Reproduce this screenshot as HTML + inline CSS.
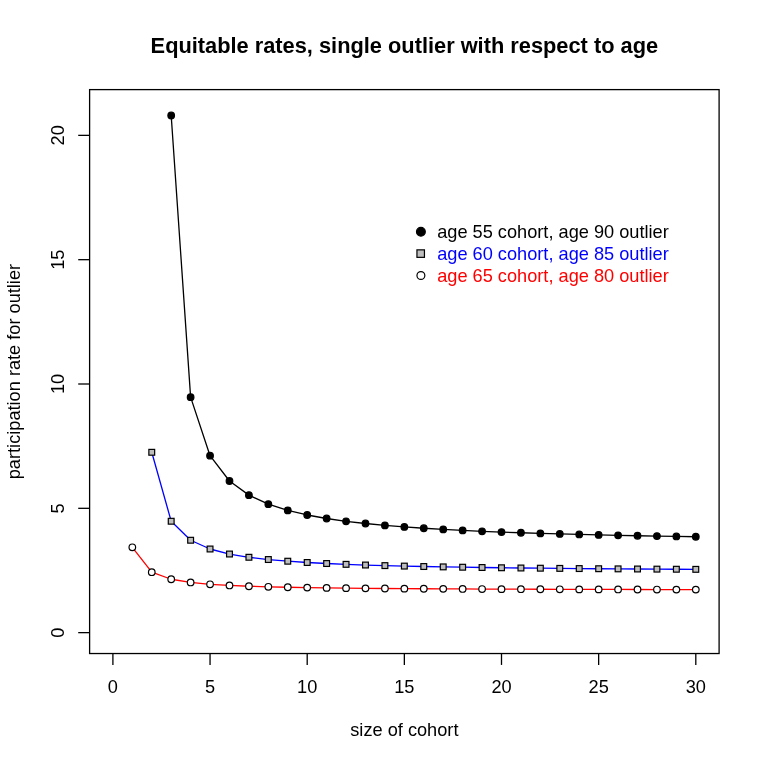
<!DOCTYPE html>
<html><head><meta charset="utf-8"><title>Equitable rates</title>
<style>
html,body{margin:0;padding:0;background:#fff;}
body{width:765px;height:765px;overflow:hidden;font-family:"Liberation Sans",sans-serif;}
svg{display:block;will-change:transform;transform:translateZ(0);}
text{font-family:"Liberation Sans",sans-serif;fill:#000;}
.t{font-size:21.8px;font-weight:bold;}
.a{font-size:18.2px;}
.l{font-size:18.2px;}
</style></head><body>
<svg width="765" height="765" viewBox="0 0 765 765">
<rect x="0" y="0" width="765" height="765" fill="#ffffff"/>

<polyline points="171.19,115.50 190.62,397.14 210.05,455.70 229.48,481.02 248.91,495.15 268.34,504.16 287.77,510.41 307.20,514.99 326.63,518.50 346.06,521.28 365.49,523.52 384.92,525.38 404.35,526.94 423.78,528.27 443.21,529.42 462.64,530.41 482.07,531.29 501.50,532.07 520.93,532.76 540.36,533.39 559.79,533.95 579.22,534.46 598.65,534.92 618.08,535.35 637.51,535.74 656.94,536.10 676.37,536.43 695.80,536.74" fill="none" stroke="#000" stroke-width="1.30" stroke-linejoin="round" stroke-linecap="round"/>
<g stroke="#000" stroke-width="1.20">
<circle cx="171.19" cy="115.50" r="3.30" fill="#000"/>
<circle cx="190.62" cy="397.14" r="3.30" fill="#000"/>
<circle cx="210.05" cy="455.70" r="3.30" fill="#000"/>
<circle cx="229.48" cy="481.02" r="3.30" fill="#000"/>
<circle cx="248.91" cy="495.15" r="3.30" fill="#000"/>
<circle cx="268.34" cy="504.16" r="3.30" fill="#000"/>
<circle cx="287.77" cy="510.41" r="3.30" fill="#000"/>
<circle cx="307.20" cy="514.99" r="3.30" fill="#000"/>
<circle cx="326.63" cy="518.50" r="3.30" fill="#000"/>
<circle cx="346.06" cy="521.28" r="3.30" fill="#000"/>
<circle cx="365.49" cy="523.52" r="3.30" fill="#000"/>
<circle cx="384.92" cy="525.38" r="3.30" fill="#000"/>
<circle cx="404.35" cy="526.94" r="3.30" fill="#000"/>
<circle cx="423.78" cy="528.27" r="3.30" fill="#000"/>
<circle cx="443.21" cy="529.42" r="3.30" fill="#000"/>
<circle cx="462.64" cy="530.41" r="3.30" fill="#000"/>
<circle cx="482.07" cy="531.29" r="3.30" fill="#000"/>
<circle cx="501.50" cy="532.07" r="3.30" fill="#000"/>
<circle cx="520.93" cy="532.76" r="3.30" fill="#000"/>
<circle cx="540.36" cy="533.39" r="3.30" fill="#000"/>
<circle cx="559.79" cy="533.95" r="3.30" fill="#000"/>
<circle cx="579.22" cy="534.46" r="3.30" fill="#000"/>
<circle cx="598.65" cy="534.92" r="3.30" fill="#000"/>
<circle cx="618.08" cy="535.35" r="3.30" fill="#000"/>
<circle cx="637.51" cy="535.74" r="3.30" fill="#000"/>
<circle cx="656.94" cy="536.10" r="3.30" fill="#000"/>
<circle cx="676.37" cy="536.43" r="3.30" fill="#000"/>
<circle cx="695.80" cy="536.74" r="3.30" fill="#000"/>
</g>
<polyline points="151.76,452.29 171.19,521.24 190.62,540.24 210.05,549.00 229.48,554.02 248.91,557.27 268.34,559.53 287.77,561.21 307.20,562.50 326.63,563.52 346.06,564.34 365.49,565.03 384.92,565.61 404.35,566.10 423.78,566.52 443.21,566.89 462.64,567.22 482.07,567.51 501.50,567.77 520.93,568.00 540.36,568.21 559.79,568.39 579.22,568.57 598.65,568.73 618.08,568.87 637.51,569.00 656.94,569.13 676.37,569.24 695.80,569.35" fill="none" stroke="#0000ff" stroke-width="1.30" stroke-linejoin="round" stroke-linecap="round"/>
<g stroke="#000" stroke-width="1.20">
<rect x="148.86" y="449.39" width="5.80" height="5.80" fill="#bebebe"/>
<rect x="168.29" y="518.34" width="5.80" height="5.80" fill="#bebebe"/>
<rect x="187.72" y="537.34" width="5.80" height="5.80" fill="#bebebe"/>
<rect x="207.15" y="546.10" width="5.80" height="5.80" fill="#bebebe"/>
<rect x="226.58" y="551.12" width="5.80" height="5.80" fill="#bebebe"/>
<rect x="246.01" y="554.37" width="5.80" height="5.80" fill="#bebebe"/>
<rect x="265.44" y="556.63" width="5.80" height="5.80" fill="#bebebe"/>
<rect x="284.87" y="558.31" width="5.80" height="5.80" fill="#bebebe"/>
<rect x="304.30" y="559.60" width="5.80" height="5.80" fill="#bebebe"/>
<rect x="323.73" y="560.62" width="5.80" height="5.80" fill="#bebebe"/>
<rect x="343.16" y="561.44" width="5.80" height="5.80" fill="#bebebe"/>
<rect x="362.59" y="562.13" width="5.80" height="5.80" fill="#bebebe"/>
<rect x="382.02" y="562.71" width="5.80" height="5.80" fill="#bebebe"/>
<rect x="401.45" y="563.20" width="5.80" height="5.80" fill="#bebebe"/>
<rect x="420.88" y="563.62" width="5.80" height="5.80" fill="#bebebe"/>
<rect x="440.31" y="563.99" width="5.80" height="5.80" fill="#bebebe"/>
<rect x="459.74" y="564.32" width="5.80" height="5.80" fill="#bebebe"/>
<rect x="479.17" y="564.61" width="5.80" height="5.80" fill="#bebebe"/>
<rect x="498.60" y="564.87" width="5.80" height="5.80" fill="#bebebe"/>
<rect x="518.03" y="565.10" width="5.80" height="5.80" fill="#bebebe"/>
<rect x="537.46" y="565.31" width="5.80" height="5.80" fill="#bebebe"/>
<rect x="556.89" y="565.49" width="5.80" height="5.80" fill="#bebebe"/>
<rect x="576.32" y="565.67" width="5.80" height="5.80" fill="#bebebe"/>
<rect x="595.75" y="565.83" width="5.80" height="5.80" fill="#bebebe"/>
<rect x="615.18" y="565.97" width="5.80" height="5.80" fill="#bebebe"/>
<rect x="634.61" y="566.10" width="5.80" height="5.80" fill="#bebebe"/>
<rect x="654.04" y="566.23" width="5.80" height="5.80" fill="#bebebe"/>
<rect x="673.47" y="566.34" width="5.80" height="5.80" fill="#bebebe"/>
<rect x="692.90" y="566.45" width="5.80" height="5.80" fill="#bebebe"/>
</g>
<polyline points="132.33,547.30 151.76,572.18 171.19,579.25 190.62,582.46 210.05,584.28 229.48,585.44 248.91,586.24 268.34,586.82 287.77,587.27 307.20,587.62 326.63,587.90 346.06,588.14 365.49,588.33 384.92,588.50 404.35,588.64 423.78,588.77 443.21,588.87 462.64,588.97 482.07,589.06 501.50,589.13 520.93,589.20 540.36,589.27 559.79,589.32 579.22,589.38 598.65,589.42 618.08,589.47 637.51,589.51 656.94,589.55 676.37,589.58 695.80,589.61" fill="none" stroke="#ff0000" stroke-width="1.30" stroke-linejoin="round" stroke-linecap="round"/>
<g stroke="#000" stroke-width="1.20">
<circle cx="132.33" cy="547.30" r="3.30" fill="#fff"/>
<circle cx="151.76" cy="572.18" r="3.30" fill="#fff"/>
<circle cx="171.19" cy="579.25" r="3.30" fill="#fff"/>
<circle cx="190.62" cy="582.46" r="3.30" fill="#fff"/>
<circle cx="210.05" cy="584.28" r="3.30" fill="#fff"/>
<circle cx="229.48" cy="585.44" r="3.30" fill="#fff"/>
<circle cx="248.91" cy="586.24" r="3.30" fill="#fff"/>
<circle cx="268.34" cy="586.82" r="3.30" fill="#fff"/>
<circle cx="287.77" cy="587.27" r="3.30" fill="#fff"/>
<circle cx="307.20" cy="587.62" r="3.30" fill="#fff"/>
<circle cx="326.63" cy="587.90" r="3.30" fill="#fff"/>
<circle cx="346.06" cy="588.14" r="3.30" fill="#fff"/>
<circle cx="365.49" cy="588.33" r="3.30" fill="#fff"/>
<circle cx="384.92" cy="588.50" r="3.30" fill="#fff"/>
<circle cx="404.35" cy="588.64" r="3.30" fill="#fff"/>
<circle cx="423.78" cy="588.77" r="3.30" fill="#fff"/>
<circle cx="443.21" cy="588.87" r="3.30" fill="#fff"/>
<circle cx="462.64" cy="588.97" r="3.30" fill="#fff"/>
<circle cx="482.07" cy="589.06" r="3.30" fill="#fff"/>
<circle cx="501.50" cy="589.13" r="3.30" fill="#fff"/>
<circle cx="520.93" cy="589.20" r="3.30" fill="#fff"/>
<circle cx="540.36" cy="589.27" r="3.30" fill="#fff"/>
<circle cx="559.79" cy="589.32" r="3.30" fill="#fff"/>
<circle cx="579.22" cy="589.38" r="3.30" fill="#fff"/>
<circle cx="598.65" cy="589.42" r="3.30" fill="#fff"/>
<circle cx="618.08" cy="589.47" r="3.30" fill="#fff"/>
<circle cx="637.51" cy="589.51" r="3.30" fill="#fff"/>
<circle cx="656.94" cy="589.55" r="3.30" fill="#fff"/>
<circle cx="676.37" cy="589.58" r="3.30" fill="#fff"/>
<circle cx="695.80" cy="589.61" r="3.30" fill="#fff"/>
</g>
<rect x="89.61" y="89.61" width="629.49" height="563.92" fill="none" stroke="#000" stroke-width="1.30"/>
<g stroke="#000" stroke-width="1.30" fill="none">
<line x1="112.90" y1="653.53" x2="112.90" y2="664.93"/>
<line x1="210.05" y1="653.53" x2="210.05" y2="664.93"/>
<line x1="307.20" y1="653.53" x2="307.20" y2="664.93"/>
<line x1="404.35" y1="653.53" x2="404.35" y2="664.93"/>
<line x1="501.50" y1="653.53" x2="501.50" y2="664.93"/>
<line x1="598.65" y1="653.53" x2="598.65" y2="664.93"/>
<line x1="695.80" y1="653.53" x2="695.80" y2="664.93"/>
<line x1="89.61" y1="632.64" x2="78.21" y2="632.64"/>
<line x1="89.61" y1="508.32" x2="78.21" y2="508.32"/>
<line x1="89.61" y1="384.00" x2="78.21" y2="384.00"/>
<line x1="89.61" y1="259.68" x2="78.21" y2="259.68"/>
<line x1="89.61" y1="135.36" x2="78.21" y2="135.36"/>
</g>
<text class="a" x="112.90" y="692.9" text-anchor="middle">0</text>
<text class="a" x="210.05" y="692.9" text-anchor="middle">5</text>
<text class="a" x="307.20" y="692.9" text-anchor="middle">10</text>
<text class="a" x="404.35" y="692.9" text-anchor="middle">15</text>
<text class="a" x="501.50" y="692.9" text-anchor="middle">20</text>
<text class="a" x="598.65" y="692.9" text-anchor="middle">25</text>
<text class="a" x="695.80" y="692.9" text-anchor="middle">30</text>
<text class="a" transform="translate(64.3,632.64) rotate(-90)" text-anchor="middle">0</text>
<text class="a" transform="translate(64.3,508.32) rotate(-90)" text-anchor="middle">5</text>
<text class="a" transform="translate(64.3,384.00) rotate(-90)" text-anchor="middle">10</text>
<text class="a" transform="translate(64.3,259.68) rotate(-90)" text-anchor="middle">15</text>
<text class="a" transform="translate(64.3,135.36) rotate(-90)" text-anchor="middle">20</text>
<text class="t" x="404.36" y="52.7" text-anchor="middle">Equitable rates, single outlier with respect to age</text>
<text class="a" x="404.36" y="736" text-anchor="middle">size of cohort</text>
<text class="a" transform="translate(20.4,371.57) rotate(-90)" text-anchor="middle">participation rate for outlier</text>
<g stroke="#000" stroke-width="1.20">
<circle cx="420.9" cy="231.75" r="4.40" fill="#000"/>
<rect x="416.95" y="249.85" width="7.50" height="7.50" fill="#bebebe"/>
<circle cx="420.9" cy="275.5" r="3.95" fill="#fff"/>
</g>
<text class="l" x="437.2" y="237.9" style="fill:#000">age 55 cohort, age 90 outlier</text>
<text class="l" x="437.2" y="259.9" style="fill:#0000ff">age 60 cohort, age 85 outlier</text>
<text class="l" x="437.2" y="281.9" style="fill:#ff0000">age 65 cohort, age 80 outlier</text>
</svg>
</body></html>
